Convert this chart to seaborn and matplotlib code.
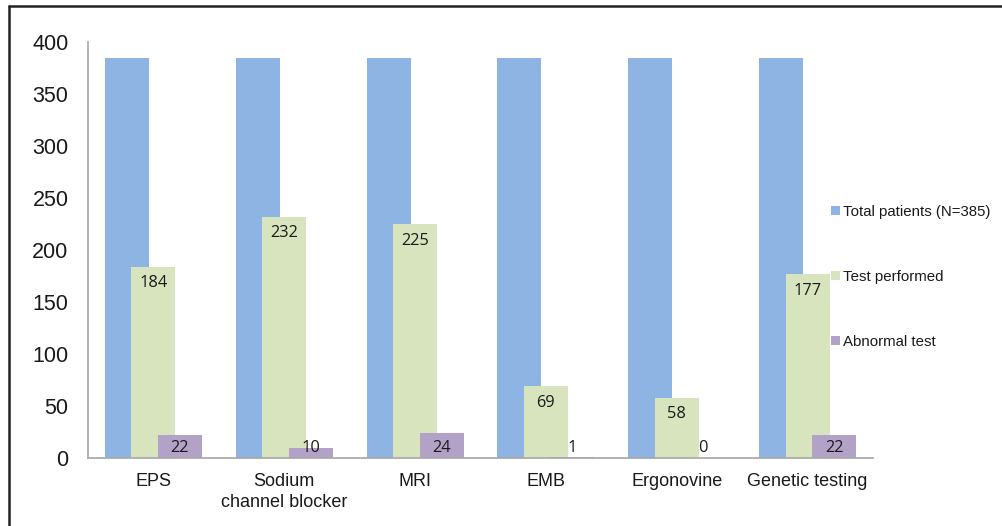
import matplotlib
matplotlib.use("Agg")
import matplotlib.pyplot as plt
import seaborn as sns
import pandas as pd
from matplotlib.lines import Line2D

categories = ["EPS", "Sodium\nchannel blocker", "MRI", "EMB", "Ergonovine", "Genetic testing"]
series_names = ["Total patients (N=385)", "Test performed", "Abnormal test"]
total_patients = [385, 385, 385, 385, 385, 385]
test_performed = [184, 232, 225, 69, 58, 177]
abnormal_test = [22, 10, 24, 1, 0, 22]
colors = ["#8EB4E3", "#D7E4BD", "#B3A2C7"]

rows = []
for vals, name in zip([total_patients, test_performed, abnormal_test], series_names):
    for c, v in zip(categories, vals):
        rows.append({"category": c, "series": name, "value": v})
df = pd.DataFrame(rows)

sns.set_theme(style="white")
plt.rcParams["font.family"] = ["Liberation Sans", "DejaVu Sans"]

fig = plt.figure(figsize=(10.03, 5.26), dpi=100)
ax = fig.add_axes([88 / 1003, 1 - 458 / 526, (873 - 88) / 1003, (458 - 42) / 526])

sns.barplot(data=df, x="category", y="value", hue="series", palette=colors,
            order=categories, hue_order=series_names, width=0.607,
            dodge=True, saturation=1, ax=ax, legend=True, errorbar=None)

# widen bars to overlap like the reference (keep centres)
bar_w = 0.336
for p in ax.patches:
    if p.get_height() is None:
        continue
    cx = p.get_x() + p.get_width() / 2
    p.set_width(bar_w)
    p.set_x(cx - bar_w / 2)
    p.set_linewidth(0)

# labels for test performed and abnormal test
for container, name in zip(ax.containers, series_names):
    if name == series_names[0]:
        continue
    for p in container:
        h = p.get_height()
        cx = p.get_x() + p.get_width() / 2
        y = max(h - 16, 9.4)
        ax.text(cx, y, f"{int(round(h))}", ha="center", va="center",
                fontsize=11.8, family=["Open Sans", "DejaVu Sans"], color="#1a1a1a")

ax.set_ylim(0, 400)
ax.set_xlim(-0.5, len(categories) - 0.5)
ax.set_yticks(range(0, 401, 50))
ax.set_xlabel("")
ax.set_ylabel("")
ax.tick_params(axis="y", labelsize=15.5, length=0, pad=14, colors="#1a1a1a")
ax.tick_params(axis="x", labelsize=13, length=0, pad=10.5, colors="#1a1a1a")
for lab in ax.get_yticklabels():
    lab.set_horizontalalignment("right")
for lab in ax.get_xticklabels():
    lab.set_linespacing(1.35)
for s in ["top", "right"]:
    ax.spines[s].set_visible(False)
for s in ["left", "bottom"]:
    ax.spines[s].set_color("#a6a6a6")
    ax.spines[s].set_linewidth(1.2)

leg = ax.legend(loc="center left", bbox_to_anchor=(0.829, 0.474),
                bbox_transform=fig.transFigure, frameon=False, fontsize=10.8,
                labelspacing=3.4, handlelength=0.55, handleheight=0.55,
                handletextpad=0.2, borderpad=0, borderaxespad=0)
for t in leg.get_texts():
    t.set_color("#1a1a1a")

# figure border (top and left)
fig.add_artist(Line2D([9 / 1003, 1.0], [1 - 6 / 526, 1 - 6 / 526], transform=fig.transFigure,
                      color="#222222", linewidth=1.8))
fig.add_artist(Line2D([9 / 1003, 9 / 1003], [0, 1 - 6 / 526], transform=fig.transFigure,
                      color="#222222", linewidth=1.8))

fig.savefig("out.png", dpi=100)
